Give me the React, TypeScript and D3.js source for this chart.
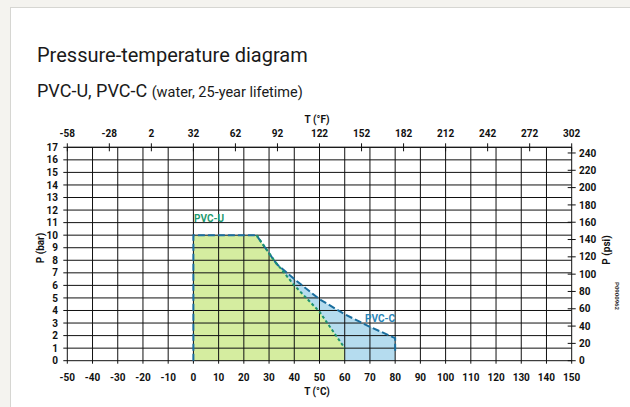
import React from 'react';
import * as d3 from 'd3';

// Scale ticks
const celsiusTicks = d3.range(-50, 151, 10);
const fahrenheitTicks = [-58, -28, 2, 32, 62, 92, 122, 152, 182, 212, 242, 272, 302];
const barTicks = d3.range(0, 18, 1);
const psiTicks = [0, 20, 40, 60, 80, 100, 120, 140, 160, 180, 200, 220, 240];

// Curves: [°C, bar]
const pvcU: [number, number][] = [
  [0, 0], [0, 10], [25, 10], [32, 8], [40, 6], [50, 3.9], [60, 1], [60, 0],
];
const pvcC: [number, number][] = [
  [0, 0], [0, 10], [25, 10], [33, 7.7], [40, 6.5], [50, 4.9], [60, 3.7], [70, 2.7], [80, 1.8], [80, 0],
];

const W = 630;
const H = 407;
const PLOT = { left: 67.3, right: 571.7, top: 147.3, bottom: 360.7 };
const FONT = 'Roboto, sans-serif';

const App = () => {
  const x = d3.scaleLinear().domain([-50, 150]).range([PLOT.left, PLOT.right]);
  const y = d3.scaleLinear().domain([0, 17]).range([PLOT.bottom, PLOT.top]);
  const f2c = (f: number) => ((f - 32) * 5) / 9;
  const psi2bar = (p: number) => p / 14.5038;

  const area = d3.line<[number, number]>().x(d => x(d[0])).y(d => y(d[1]));

  // outline strokes (the part drawn dashed)
  const blueEdge = pvcC.slice(0, pvcC.length - 1).concat([[80, 0.7]]);
  const greenEdge = pvcU.slice(2, pvcU.length - 1);

  const midY = (PLOT.top + PLOT.bottom) / 2;

  return (
    <svg
      width={W}
      height={H}
      style={{ position: 'absolute', left: 0, top: 0, fontFamily: FONT }}
    >
      <rect x={0} y={0} width={W} height={H} fill="#f4f3ef" />
      <rect x={10.5} y={7.5} width={W} height={H} fill="#ffffff" stroke="#d6d6d2" />

      <text x={37} y={62} fontSize={20} fill="#1a1a1a">Pressure-temperature diagram</text>
      <text x={37} y={97} fill="#1a1a1a">
        <tspan fontSize={18}>PVC-U, PVC-C </tspan>
        <tspan fontSize={14.5}>(water, 25-year lifetime)</tspan>
      </text>

      {/* areas */}
      <path d={area(pvcC) + 'Z'} fill="#b5dcef" />
      <path d={area(pvcU) + 'Z'} fill="#d5eda0" />

      {/* grid */}
      <g stroke="#111" strokeWidth={1}>
        {celsiusTicks.map(t => (
          <line key={'v' + t} x1={x(t)} x2={x(t)} y1={PLOT.top} y2={PLOT.bottom + 3} />
        ))}
        {barTicks.map(t => (
          <line key={'h' + t} x1={PLOT.left - 4} x2={PLOT.right} y1={y(t)} y2={y(t)} />
        ))}
        <line x1={PLOT.left} x2={PLOT.right} y1={PLOT.top} y2={PLOT.top} />
        {fahrenheitTicks.map(t => (
          <line key={'f' + t} x1={x(f2c(t))} x2={x(f2c(t))} y1={PLOT.top - 4} y2={PLOT.top + 4} />
        ))}
        {psiTicks.map(t => (
          <line key={'p' + t} x1={PLOT.right - 4} x2={PLOT.right + 4} y1={y(psi2bar(t))} y2={y(psi2bar(t))} />
        ))}
      </g>

      {/* curve outlines */}
      <path d={area(blueEdge)} fill="none" stroke="#1a6e9e" strokeWidth={2} strokeDasharray="7 3" />
      <path d={area(greenEdge)} fill="none" stroke="#1b9270" strokeWidth={2} strokeDasharray="3 2.5" />

      <text x={194} y={222} fontSize={10} fontWeight="bold" fill="#1f9a70">PVC-U</text>
      <text x={365} y={322} fontSize={10} fontWeight="bold" fill="#2a85b8">PVC-C</text>

      {/* tick labels */}
      <g fontSize={10} fontWeight="bold" fill="#111">
        {celsiusTicks.map(t => (
          <text key={'cl' + t} x={x(t)} y={381} textAnchor="middle">{t}</text>
        ))}
        {fahrenheitTicks.map(t => (
          <text key={'fl' + t} x={x(f2c(t))} y={137} textAnchor="middle">{t}</text>
        ))}
        {barTicks.map(t => (
          <text key={'bl' + t} x={58} y={y(t) + 3.6} textAnchor="end">{t}</text>
        ))}
        {psiTicks.map(t => (
          <text key={'pl' + t} x={579} y={y(psi2bar(t)) + 3.6}>{t}</text>
        ))}
        <text x={317} y={395} textAnchor="middle">T (°C)</text>
        <text x={317} y={123} textAnchor="middle">T (°F)</text>
        <text transform={`translate(44,${midY - 6}) rotate(-90)`} textAnchor="middle">P (bar)</text>
        <text transform={`translate(610,${midY - 4}) rotate(-90)`} textAnchor="middle">P (psi)</text>
      </g>
      <text
        transform="translate(615,296) rotate(90)"
        textAnchor="middle"
        fontSize={6}
        fontWeight="bold"
        fill="#333"
      >
        P0900962
      </text>
    </svg>
  );
};

export default App;
